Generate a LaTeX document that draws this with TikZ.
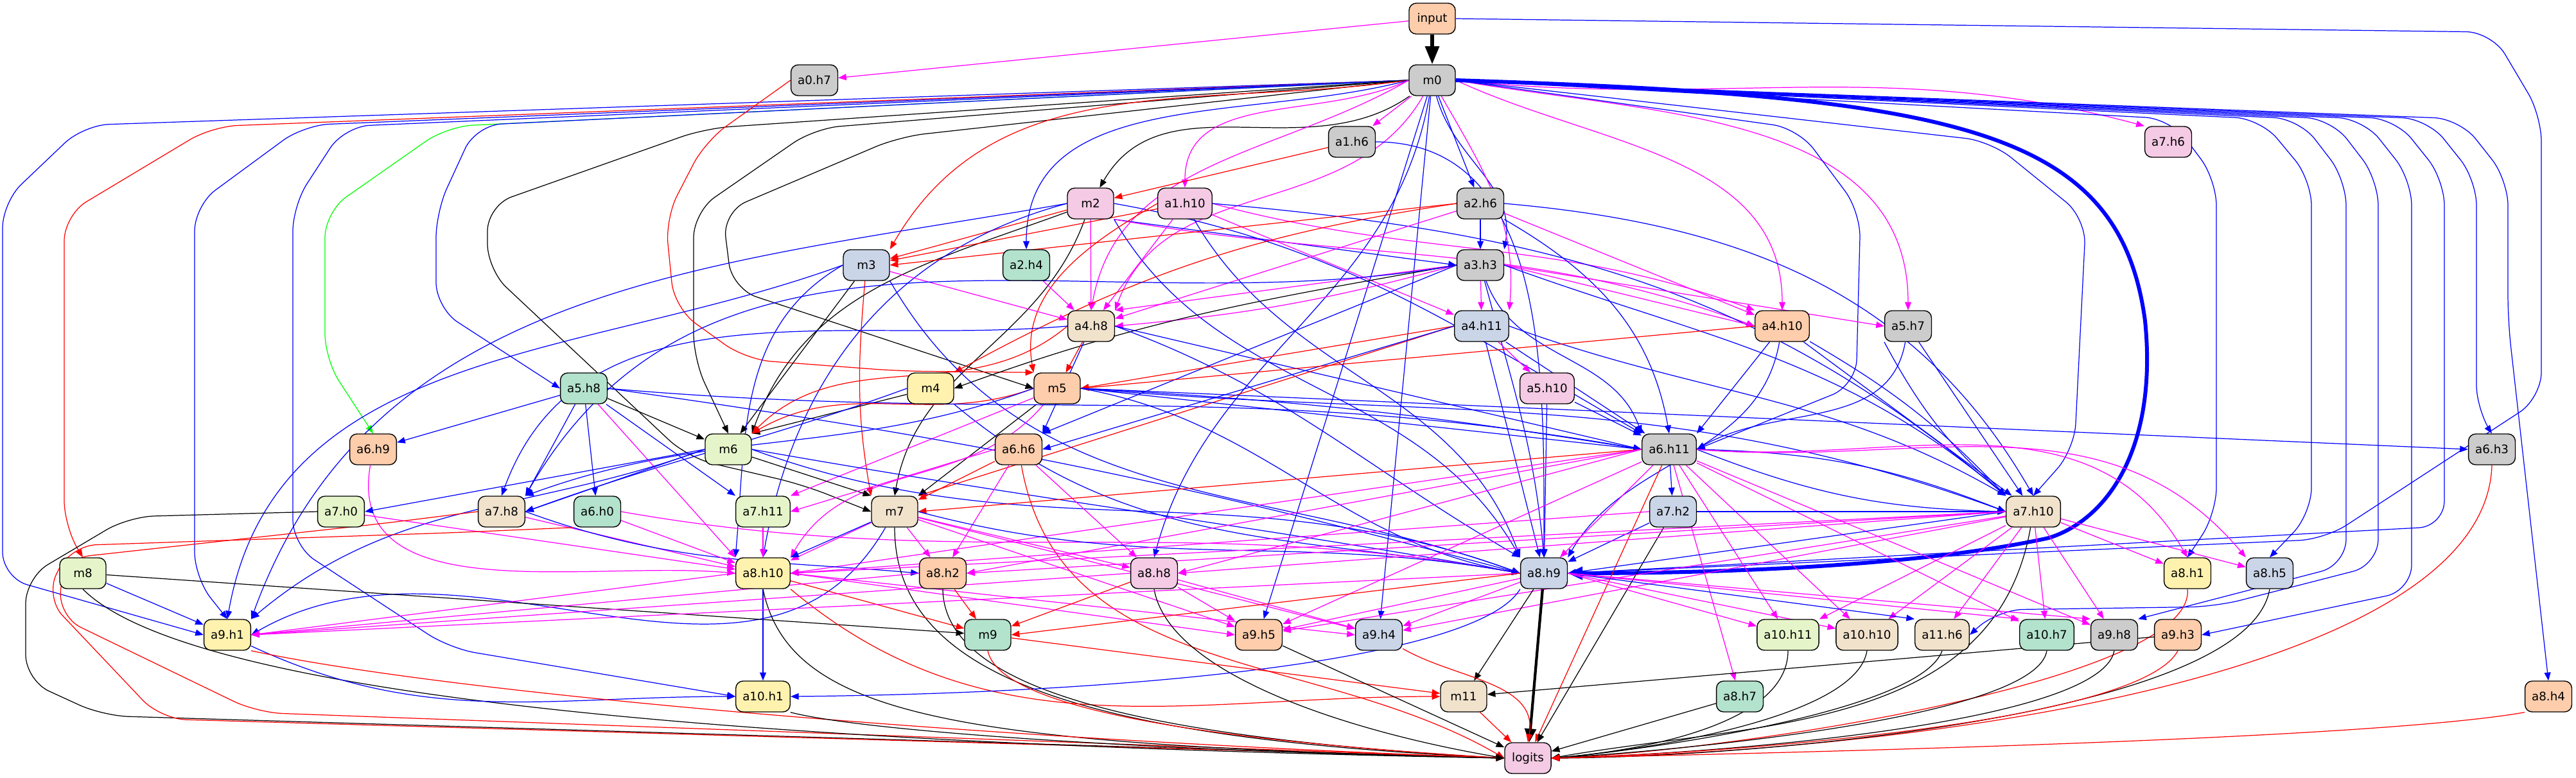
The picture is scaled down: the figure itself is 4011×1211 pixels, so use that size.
\documentclass[tikz,border=0pt]{standalone}
\usepackage{fontspec}
\setmainfont{DejaVu Sans}
\usepackage{tikz}
\usetikzlibrary{arrows.meta}
\definecolor{pmint}{HTML}{B3E2CD}
\definecolor{ppeach}{HTML}{FDCDAC}
\definecolor{pblue}{HTML}{CBD5E8}
\definecolor{ppink}{HTML}{F4CAE4}
\definecolor{plime}{HTML}{E6F5C9}
\definecolor{pyell}{HTML}{FFF2AE}
\definecolor{pbeige}{HTML}{F1E2CC}
\definecolor{pgray}{HTML}{CCCCCC}
\definecolor{emag}{RGB}{255,0,255}
\definecolor{eblu}{RGB}{0,0,255}
\definecolor{ered}{RGB}{255,0,0}
\definecolor{egrn}{RGB}{0,255,0}
\pgfdeclarelayer{edges}
\pgfsetlayers{edges,main}
\tikzset{
  hd/.style={draw, line width=0.4pt, rounded corners=3.2pt, minimum width=0.72cm, minimum height=0.48cm,
    inner xsep=0.105cm, inner ysep=0pt, font=\fontsize{5.2}{6}\selectfont},
  gy/.style={hd, fill=pgray}, pc/.style={hd, fill=ppeach}, bl/.style={hd, fill=pblue},
  pk/.style={hd, fill=ppink}, lg/.style={hd, fill=plime}, yl/.style={hd, fill=pyell},
  bg/.style={hd, fill=pbeige}, mt/.style={hd, fill=pmint},
  tip/.style={-{Triangle[length=3.6pt,width=2.8pt]}},
  bigtip/.style={-{Triangle[length=6.5pt,width=5.5pt]}},
  eb/.style={tip, eblu, line width=0.35pt},
  er/.style={tip, ered, line width=0.35pt},
  em/.style={tip, emag, line width=0.35pt},
  ek/.style={tip, black, line width=0.35pt},
  eg/.style={tip, egrn, line width=0.35pt},
  rc/.style={rounded corners=0.4cm}
}
\begin{document}
\begin{tikzpicture}[x=0.01cm,y=-0.01cm]
\useasboundingbox (0,0) rectangle (4011,1211);
\node[pc] (input) at (2230,29) {input};
\node[gy] (m0) at (2230,125) {m0};
\node[gy] (a0h7) at (1268,125) {a0.h7};
\node[gy] (a1h6) at (2105,221) {a1.h6};
\node[pk] (a7h6) at (3376,221) {a7.h6};
\node[pk] (m2) at (1698,317) {m2};
\node[pk] (a1h10) at (1845,317) {a1.h10};
\node[gy] (a2h6) at (2305,317) {a2.h6};
\node[bl] (m3) at (1349,413) {m3};
\node[mt] (a2h4) at (1598,413) {a2.h4};
\node[gy] (a3h3) at (2305,413) {a3.h3};
\node[bg] (a4h8) at (1699,508) {a4.h8};
\node[bl] (a4h11) at (2307,508) {a4.h11};
\node[pc] (a4h10) at (2775,508) {a4.h10};
\node[gy] (a5h7) at (2971,508) {a5.h7};
\node[yl] (m4) at (1449,605) {m4};
\node[pc] (m5) at (1646,605) {m5};
\node[pk] (a5h10) at (2409,605) {a5.h10};
\node[mt] (a5h8) at (909,605) {a5.h8};
\node[pc] (a6h9) at (581,700) {a6.h9};
\node[lg] (m6) at (1134,700) {m6};
\node[pc] (a6h6) at (1586,700) {a6.h6};
\node[gy] (a6h11) at (2599,700) {a6.h11};
\node[gy] (a6h3) at (3880,700) {a6.h3};
\node[lg] (a7h0) at (531,797) {a7.h0};
\node[bg] (a7h8) at (781,797) {a7.h8};
\node[mt] (a6h0) at (930,797) {a6.h0};
\node[lg] (a7h11) at (1188,797) {a7.h11};
\node[bg] (m7) at (1393,797) {m7};
\node[bl] (a7h2) at (2605,797) {a7.h2};
\node[bg] (a7h10) at (3166,797) {a7.h10};
\node[lg] (m8) at (129,893) {m8};
\node[yl] (a8h10) at (1188,893) {a8.h10};
\node[pc] (a8h2) at (1468,893) {a8.h2};
\node[pk] (a8h8) at (1797,893) {a8.h8};
\node[bl] (a8h9) at (2404,893) {a8.h9};
\node[yl] (a8h1) at (3406,893) {a8.h1};
\node[bl] (a8h5) at (3534,893) {a8.h5};
\node[yl] (a9h1) at (354,989) {a9.h1};
\node[mt] (m9) at (1538,989) {m9};
\node[pc] (a9h5) at (1960,989) {a9.h5};
\node[bl] (a9h4) at (2147,989) {a9.h4};
\node[lg] (a10h11) at (2784,989) {a10.h11};
\node[bg] (a10h10) at (2907,989) {a10.h10};
\node[bg] (a11h6) at (3024,989) {a11.h6};
\node[mt] (a10h7) at (3187,989) {a10.h7};
\node[gy] (a9h8) at (3292,989) {a9.h8};
\node[pc] (a9h3) at (3391,989) {a9.h3};
\node[yl] (a10h1) at (1188,1085) {a10.h1};
\node[bg] (m11) at (2279,1085) {m11};
\node[mt] (a8h7) at (2709,1085) {a8.h7};
\node[pc] (a8h4) at (3968,1085) {a8.h4};
\node[pk] (logits) at (2379,1181) {logits};
\begin{pgfonlayer}{edges}
\draw[ek, line width=1.6pt, -{Triangle[length=8pt,width=6pt]}] (input) -- (m0);
\draw[em] (input) -- (a0h7);
\draw[eb, rc] (input.east) -- (3880,50) -- (3957,180) -- (3957,620) -- (3620,840) -- (a8h9.east);
\draw[eb, rc] (m0.west) -- (130,195) -- (4,315) -- (4,900) -- (a9h1.west);
\draw[er, rc] (m0.west) -- (330,197) -- (100,335) -- (100,820) -- (m8.north);
\draw[eb, rc] (m0.west) -- (473,195) -- (303,320) -- (303,900) -- (a9h1.north);
\draw[eb, rc] (m0.west) -- (536,197) -- (456,320) -- (456,850) -- (700,1010) -- (a10h1.west);
\draw[eg, rc] (m0.west) -- (696,197) -- (506,330) -- (506,560) -- (a6h9.north);
\draw[eb, rc] (m0.west) -- (741,195) -- (679,330) -- (679,480) -- (a5h8.west);
\draw[ek, rc] (m0.west) -- (1098,200) -- (759,320) -- (759,420) -- (1071,713) -- (1250,755) -- (m7.west);
\draw[ek, rc] (m0.west) -- (1268,200) -- (1080,330) -- (1080,560) -- (m6.north);
\draw[ek, rc] (m0.west) -- (1400,213) -- (1125,330) -- (1140,450) -- (m5.west);
\draw[er] (m0.west) to[out=188,in=60] (m3.north east);
\draw[eb] (m0.west) to[out=195,in=90] (a2h4.north);
\draw[ek] (m0) to[out=215,in=60] (m2);
\draw[em] (m0) -- (a1h6);
\draw[em] (m0.west) to[out=205,in=90] (a1h10.north);
\draw[em] (m0.west) to[out=210,in=80] (a4h8.north);
\draw[em] (m0) to[out=240,in=70] (a4h8.north east);
\draw[eb] (m0) -- (a2h6);
\draw[eb] (m0) to[out=-75,in=80] (a3h3.north east);
\draw[em] (m0) to[out=-60,in=85] (a4h11.north east);
\draw[eb] (m0) to[out=-100,in=75] (a8h8.north);
\draw[eb] (m0) -- (a9h5);
\draw[eb] (m0) -- (a9h4);
\draw[em] (m0.east) to[out=-6,in=165] (a7h6.north west);
\draw[em] (m0.east) to[out=-25,in=90] (a4h10.north);
\draw[em] (m0.east) to[out=-10,in=90] (a5h7.north);
\draw[eb, rc] (m0.east) -- (2800,200) -- (2897,330) -- (2890,600) -- (a6h11.east);
\draw[eb, rc] (m0.east) -- (3100,220) -- (3248,340) -- (3230,700) -- (a7h10.north);
\draw[eb, line width=1.7pt, bigtip] (m0.east) .. controls (3050,150) and (3300,200) .. (3340,500) .. controls (3360,700) and (3280,810) .. (3190,838) .. controls (3000,880) and (2700,893) .. (a8h9.east);
\draw[eb, rc] (m0.east) -- (3380,185) -- (3451,280) -- (3451,800) -- (a8h1.north);
\draw[eb, rc] (m0.east) -- (3520,185) -- (3599,280) -- (3599,800) -- (a8h5.north);
\draw[eb, rc] (m0.east) -- (3580,185) -- (3653,280) -- (3653,880) -- (a9h8.north east);
\draw[eb, rc] (m0.east) -- (3630,185) -- (3703,280) -- (3703,880) -- (3450,945) -- (3110,950) -- (a11h6.east);
\draw[eb, rc] (m0.east) -- (3680,185) -- (3755,280) -- (3755,920) -- (a9h3.east);
\draw[eb, rc] (m0.east) -- (3730,185) -- (3806,280) -- (3806,820) -- (a8h9.east);
\draw[eb, rc] (m0.east) -- (3780,185) -- (3856,280) -- (3856,640) -- (a6h3.north);
\draw[eb, rc] (m0.east) -- (3830,185) -- (3905,280) -- (3905,500) -- (a8h4.north);
\draw[er, rc] (a0h7.west) -- (1098,220) -- (1036,340) -- (1050,480) -- (1161,560) -- (1400,578) -- (m5.north west);
\draw[er] (a1h6) -- (m2);
\draw[eb] (a1h6.east) to[out=0,in=90] (a8h9.north);
\draw[er] (m2) -- (m3);
\draw[eb] (m2.south east) -- (a3h3.west);
\draw[em] (m2) -- (a4h8);
\draw[em] (m2.south east) to[out=-10,in=160] (a4h10.west);
\draw[ek] (m2) to[out=200,in=70] (m6.north east);
\draw[ek] (m2) to[out=250,in=80] (m7.north);
\draw[eb] (m2.west) to[out=190,in=70] (a9h1.north east);
\draw[eb] (m2.west) to[out=195,in=80] (a8h10.north);
\draw[eb] (m2.east) to[out=-10,in=150] (a6h11.north west);
\draw[eb] (m2.south east) to[out=-60,in=120] (a8h9.north west);
\draw[er] (a1h10) -- (m3);
\draw[er] (a1h10.west) to[out=210,in=100] (m5.north west);
\draw[em] (a1h10) -- (a4h8);
\draw[em] (a1h10) -- (a4h11);
\draw[em] (a1h10.east) to[out=-15,in=160] (a4h10.north west);
\draw[eb] (a1h10) to[out=-60,in=110] (a8h9.north west);
\draw[eb] (a1h10.east) to[out=-5,in=140] (a7h10.north west);
\draw[er] (a2h6.west) -- (m3.east);
\draw[er] (a2h6.west) to[bend right=10] (m4.north east);
\draw[eb] (a2h6) -- (a3h3);
\draw[em] (a2h6) -- (a4h8);
\draw[em] (a2h6) -- (a4h10);
\draw[eb] (a2h6.east) to[out=-5,in=120] (a7h10.north);
\draw[eb] (a2h6.south east) to[out=-30,in=100] (a6h11.north);
\draw[em] (m3) -- (a4h8);
\draw[ek] (m3) -- (m6);
\draw[er] (m3) to[out=-95,in=100] (m7.north west);
\draw[eb] (m3.west) to[out=200,in=80] (a9h1.north);
\draw[eb] (m3.west) to[out=210,in=85] (a8h10.north west);
\draw[eb] (m3.south east) to[out=-60,in=160] (a8h9.west);
\draw[em] (a2h4) -- (a4h8);
\draw[em] (a3h3) -- (a4h11);
\draw[em] (a3h3.west) -- (a4h8.north east);
\draw[em] (a3h3.west) to[bend left=5] (a4h8.east);
\draw[em] (a3h3.east) -- (a4h10.west);
\draw[em] (a3h3.east) -- (a5h7.west);
\draw[ek] (a3h3.west) to[out=190,in=20] (m4.east);
\draw[eb] (a3h3.west) -- (a6h6.north east);
\draw[eb] (a3h3.west) to[out=190,in=60] (a7h8.north east);
\draw[eb] (a3h3) to[out=-70,in=110] (a6h11.north west);
\draw[eb] (a3h3) to[out=-75,in=95] (a8h9.north);
\draw[eb] (a3h3.east) to[out=-20,in=140] (a7h10.north west);
\draw[er] (a4h8) -- (m5);
\draw[er] (a4h8.west) to[out=220,in=45] (m6.north east);
\draw[eb] (a4h8) -- (a6h6.north east);
\draw[eb] (a4h8.east) -- (a6h11.west);
\draw[eb] (a4h8.east) to[out=-20,in=150] (a8h9.north west);
\draw[eb] (a4h8.west) to[out=185,in=70] (a7h8.north);
\draw[er] (a4h11.west) -- (m5.east);
\draw[er] (a4h11.west) -- (m7.north east);
\draw[em] (a4h11) -- (a5h10);
\draw[eb] (a4h11.west) -- (a6h6.east);
\draw[eb] (a4h11) -- (a6h11);
\draw[eb] (a4h11) -- (a8h9);
\draw[eb] (a4h11.east) to[out=-20,in=150] (a7h10.north west);
\draw[er] (a4h10.west) -- (m5.east);
\draw[eb] (a4h10) -- (a6h11.north east);
\draw[eb] (a4h10) -- (a7h10);
\draw[eb] (a4h10) to[bend left=8] (a7h10.north west);
\draw[eb] (a4h10) to[out=-100,in=60] (a8h9.north east);
\draw[eb] (a5h7) to[out=-100,in=30] (a6h11.east);
\draw[eb] (a5h7) -- (a7h10);
\draw[eb] (a5h7.south west) to[bend right=10] (a7h10.north west);
\draw[ek] (m4) -- (m6.north east);
\draw[eb] (m4.west) to[out=200,in=20] (a7h8.east);
\draw[eb] (m4.south east) to[out=-40,in=170] (a8h9.west);
\draw[er] (m5.west) to[out=200,in=30] (m6.north east);
\draw[ek] (m5) -- (m7.north east);
\draw[eb] (m5.east) -- (a6h11.west);
\draw[eb] (m5.east) to[bend left=3] (a6h11.west);
\draw[eb] (m5.east) -- (a6h3.west);
\draw[eb] (m5.east) to[out=-10,in=170] (a8h9.west);
\draw[eb] (m5.east) to[out=-5,in=160] (a7h10.west);
\draw[em] (m5) -- (a7h11.north east);
\draw[em] (m5) to[out=230,in=60] (a8h10.north east);
\draw[eb] (m5.west) to[out=200,in=20] (a7h8.north east);
\draw[eb] (a5h10) -- (a6h11);
\draw[eb] (a5h10) -- (a8h9);
\draw[eb] (a5h8) -- (a6h9);
\draw[ek] (a5h8) -- (m6);
\draw[eb] (a5h8) -- (a7h8.north east);
\draw[eb] (a5h8) -- (a6h0);
\draw[eb] (a5h8) -- (a7h11.north west);
\draw[em] (a5h8) -- (a8h10.north west);
\draw[eb] (a5h8.east) to[out=-5,in=170] (a6h11.west);
\draw[eb] (a5h8.east) to[out=-8,in=165] (a8h9.west);
\draw[em] (a6h9) to[out=-100,in=175] (a8h10.west);
\draw[eb] (m6.west) -- (a7h0.east);
\draw[eb] (m6.west) -- (a7h8.east);
\draw[ek] (m6) -- (m7.north west);
\draw[eb] (m6.west) to[out=200,in=40] (a9h1.north east);
\draw[eb] (m6.east) to[out=-10,in=170] (a8h9.west);
\draw[eb] (m6.east) to[out=-20,in=160] (a8h9.west);
\draw[er] (a6h6) -- (m7);
\draw[em] (a6h6) -- (a8h2);
\draw[em] (a6h6) -- (a8h8);
\draw[em] (a6h6.west) -- (a7h11.east);
\draw[er] (a6h6) to[out=-80,in=150] (logits.west);
\draw[er] (a6h11.west) -- (m7.east);
\draw[eb] (a6h11) -- (a7h2);
\draw[eb] (a6h11.east) to[bend left=10] (a7h10.west);
\draw[eb] (a6h11.east) to[bend right=10] (a7h10.west);
\draw[em] (a6h11.west) -- (a8h10.east);
\draw[em] (a6h11.west) -- (a8h2.east);
\draw[em] (a6h11.west) -- (a8h8.east);
\draw[em] (a6h11) -- (a8h9);
\draw[em] (a6h11.east) to[out=-5,in=120] (a8h1.north);
\draw[em] (a6h11.east) to[out=-5,in=130] (a8h5.north west);
\draw[em] (a6h11) -- (a8h7);
\draw[em] (a6h11) -- (a10h11);
\draw[em] (a6h11) -- (a10h10);
\draw[em] (a6h11) -- (a10h7);
\draw[em] (a6h11) -- (a9h8);
\draw[em] (a6h11) -- (a9h5);
\draw[er] (a6h11) -- (logits);
\draw[er] (a6h3.south) .. controls (3870,1050) and (3000,1170) .. (logits.east);
\draw[em] (a7h0) -- (a8h10);
\draw[ek, rc] (a7h0.west) -- (200,805) -- (40,900) -- (40,1060) -- (160,1115) -- (logits.west);
\draw[em] (a7h8) -- (a8h10);
\draw[er, rc] (a7h8.west) -- (600,815) -- (100,870) -- (90,960) -- (400,1110) -- (logits.west);
\draw[eb] (a7h8.east) to[out=-20,in=175] (a8h2.west);
\draw[em] (a6h0) -- (a8h10);
\draw[em] (a6h0.east) to[out=-10,in=170] (a8h9.west);
\draw[er, rc] (a6h0.south west) -- (700,830) -- (110,850) -- (70,930) -- (250,1120) -- (logits.west);
\draw[em] (a7h11) -- (a8h10);
\draw[em] (m7) -- (a8h10);
\draw[eb] (m7) -- (a8h10.north east);
\draw[em] (m7) -- (a8h2);
\draw[em] (m7) -- (a8h8);
\draw[eb] (m7.east) to[out=-15,in=170] (a8h9.west);
\draw[em] (m7) -- (a9h5);
\draw[em] (m7) -- (a9h4);
\draw[eb] (m7) to[out=-120,in=30] (a9h1.east);
\draw[ek] (m7.south) .. controls (1393,1060) and (1700,1150) .. (logits.west);
\draw[eb] (a7h2) -- (a8h9);
\draw[eb] (a7h2) -- (a7h10);
\draw[em] (a7h2.west) -- (a8h10.east);
\draw[ek] (a7h2) -- (logits);
\draw[eb] (a7h10.west) -- (a8h9.east);
\draw[em] (a7h10.west) -- (a8h10.east);
\draw[em] (a7h10.west) -- (a8h2.east);
\draw[em] (a7h10.west) -- (a8h8.east);
\draw[em] (a7h10) -- (a8h1);
\draw[em] (a7h10) -- (a8h5);
\draw[em] (a7h10) -- (a9h4);
\draw[em] (a7h10) -- (a9h5);
\draw[em] (a7h10) -- (a10h11);
\draw[em] (a7h10) -- (a10h10);
\draw[em] (a7h10) -- (a11h6);
\draw[em] (a7h10) -- (a10h7);
\draw[em] (a7h10) -- (a9h8);
\draw[ek] (a7h10) to[out=-100,in=10] (logits.east);
\draw[eb] (m8) -- (a9h1);
\draw[ek] (m8) -- (m9);
\draw[ek] (m8.south) .. controls (300,1090) and (1200,1160) .. (logits.west);
\draw[em] (a8h10.west) -- (a9h1.east);
\draw[eb] (a8h10) -- (a10h1);
\draw[er] (a8h10) -- (m9);
\draw[er] (a8h10.south east) to[out=-40,in=180] (m11.west);
\draw[em] (a8h10.east) -- (a9h5.west);
\draw[em] (a8h10.east) -- (a9h4.west);
\draw[ek] (a8h10.south) .. controls (1230,1120) and (1500,1160) .. (logits.west);
\draw[er] (a8h2) -- (m9);
\draw[em] (a8h2.west) -- (a9h1.east);
\draw[ek] (a8h2.south) .. controls (1470,1080) and (1800,1150) .. (logits.west);
\draw[er] (a8h8) -- (m9);
\draw[em] (a8h8) -- (a9h5);
\draw[em] (a8h8) -- (a9h4);
\draw[em] (a8h8.west) -- (a9h1.east);
\draw[ek] (a8h8.south) .. controls (1820,1050) and (2100,1140) .. (logits.west);
\draw[em] (a8h9.west) -- (a9h1.east);
\draw[er] (a8h9.west) -- (m9.east);
\draw[em] (a8h9) -- (a9h5);
\draw[em] (a8h9) -- (a9h4);
\draw[eb] (a8h9.south west) .. controls (2300,1030) and (1750,1080) .. (a10h1.east);
\draw[ek] (a8h9) -- (m11);
\draw[ek, line width=1.2pt, -{Triangle[length=6pt,width=5pt]}] (a8h9) -- (logits);
\draw[em] (a8h9.east) -- (a10h11);
\draw[em] (a8h9.east) -- (a10h10);
\draw[eb] (a8h9.east) -- (a11h6.north west);
\draw[em] (a8h9.east) -- (a10h7.north west);
\draw[em] (a8h9.east) -- (a9h8.north west);
\draw[er] (a8h1.south) .. controls (3420,1060) and (2700,1170) .. (logits.east);
\draw[ek] (a8h5.south) .. controls (3500,1120) and (2700,1180) .. (logits.east);
\draw[eb] (a9h1) to[out=-25,in=180] (a10h1.west);
\draw[er] (a9h1.south east) .. controls (700,1080) and (1500,1150) .. (logits.west);
\draw[er] (m9) -- (m11);
\draw[er] (m9.south) .. controls (1560,1120) and (2000,1160) .. (logits.west);
\draw[ek] (a9h5) -- (logits);
\draw[er] (a9h4) to[out=-30,in=80] (logits.north);
\draw[ek] (a10h11.south) .. controls (2784,1130) and (2550,1170) .. (logits.east);
\draw[ek] (a10h10.south) .. controls (2890,1120) and (2550,1170) .. (logits.east);
\draw[ek] (a11h6.south) .. controls (2990,1110) and (2550,1170) .. (logits.east);
\draw[ek] (a10h7.south) .. controls (3170,1120) and (2600,1170) .. (logits.east);
\draw[ek] (a9h8.south) .. controls (3270,1130) and (2650,1175) .. (logits.east);
\draw[er] (a9h3.south) .. controls (3330,1130) and (2650,1175) .. (logits.east);
\draw[ek] (a9h3) -- (m11);
\draw[ek] (a10h1.south east) .. controls (1350,1140) and (1800,1170) .. (logits.west);
\draw[er] (m11) -- (logits);
\draw[ek] (a8h7) -- (logits);
\draw[er] (a8h4.south west) .. controls (3700,1150) and (2900,1170) .. (logits.east);
\end{pgfonlayer}
\end{tikzpicture}
\end{document}
